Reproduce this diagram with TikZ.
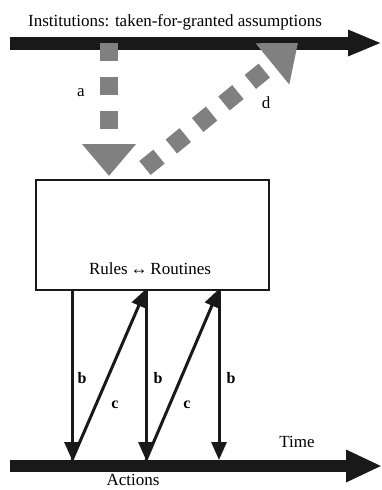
\documentclass[tikz,border=0pt]{standalone}
\usepackage{fontspec}
\setmainfont{Liberation Serif}
\usetikzlibrary{arrows.meta}
\definecolor{ink}{RGB}{25,25,25}
\definecolor{dgray}{RGB}{128,128,128}
\begin{document}
\begin{tikzpicture}[x=1pt,y=-1pt,
  bigarrow/.style={draw=ink,line width=13pt,-{Triangle[length=34pt,width=24pt]}},
  botarrow/.style={draw=ink,line width=12pt,-{Triangle[length=36pt,width=30pt]}},
  dasharrow/.style={draw=dgray,line width=18pt,dash pattern=on 18pt off 16pt,-{Triangle[length=32pt,width=52pt]}},
  thinarrow/.style={draw=ink,line width=3pt,-{Triangle[length=18pt,width=15pt]}},
  lbl/.style={font=\fontsize{17}{20}\selectfont,inner sep=0pt},
  blbl/.style={font=\fontsize{16}{19}\selectfont\bfseries,inner sep=0pt}]
\useasboundingbox (0,0) rectangle (382,490);
% coordinates
\coordinate (T0) at (10,43);
\coordinate (T1) at (382,43);
\coordinate (B0) at (10,466);
\coordinate (B1) at (382,466);
\coordinate (a0) at (109,43);
\coordinate (a1) at (109,176);
\coordinate (d0) at (145,168);
\coordinate (d1) at (298,43);
\coordinate (u1) at (72,289);
\coordinate (u2) at (146,289);
\coordinate (u3) at (219,289);
\coordinate (l1) at (72,460);
\coordinate (l2) at (146,460);
\coordinate (l3) at (219,460);
% main arrows
\draw[bigarrow] (T0) -- (T1);
\draw[botarrow] (B0) -- (B1);
\node[lbl,anchor=base] (inst) at (175,26) {Institutions: taken-for-granted assumptions};
% box
\node[draw=ink,line width=2pt,minimum width=233pt,minimum height=110pt,inner sep=0pt,anchor=north west] (box) at (35,179) {};
\node[lbl,anchor=base] (rr) at (150,274) {Rules\,↔\,Routines};
% dashed arrows
\draw[dasharrow] (a0) -- (a1);
\draw[dasharrow,-{Triangle[length=33pt,width=51pt]}] (d0) -- (d1);
\node[lbl] (la) at (81,93) {a};
\node[lbl] (ld) at (266,103) {d};
% thin arrows
\draw[thinarrow] (u1) -- (l1);
\draw[thinarrow] (u2) -- (l2);
\draw[thinarrow] (u3) -- (l3);
\draw[thinarrow] (l1) -- (u2);
\draw[thinarrow] (l2) -- (u3);
\node[blbl] (b1) at (82,378) {b};
\node[blbl] (b2) at (158,378) {b};
\node[blbl] (b3) at (231,378) {b};
\node[blbl] (c1) at (115,405) {c};
\node[blbl] (c2) at (187,405) {c};
\node[lbl,anchor=base] (time) at (297,447) {Time};
\node[lbl,anchor=base] (act) at (133,485) {Actions};
\end{tikzpicture}
\end{document}
